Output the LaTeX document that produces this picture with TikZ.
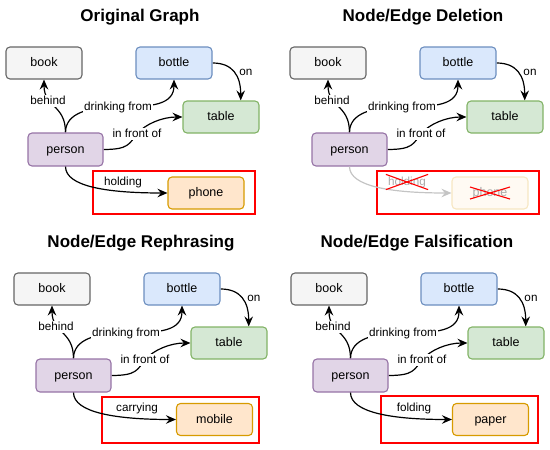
\documentclass[tikz,border=0pt]{standalone}
\usepackage{fontspec}
\setmainfont{Liberation Sans}
\usetikzlibrary{arrows.meta,calc}
\pgfdeclarelayer{background}
\pgfsetlayers{background,main}
\definecolor{bookF}{HTML}{F5F5F5}\definecolor{bookD}{HTML}{666666}
\definecolor{bottleF}{HTML}{DAE8FC}\definecolor{bottleD}{HTML}{6C8EBF}
\definecolor{tableF}{HTML}{D5E8D4}\definecolor{tableD}{HTML}{82B366}
\definecolor{personF}{HTML}{E1D5E7}\definecolor{personD}{HTML}{9673A6}
\definecolor{objF}{HTML}{FFE6CC}\definecolor{objD}{HTML}{D79B00}
\definecolor{fadeF}{HTML}{FFFAF3}\definecolor{fadeD}{HTML}{F7E7C2}
\definecolor{fadeT}{HTML}{AAAAAA}\definecolor{fadeE}{HTML}{C4C4C4}
\tikzset{
 box/.style={draw, rounded corners=4pt, line width=1.1pt, minimum width=76pt,
   minimum height=32pt, inner sep=0pt, font=\fontsize{12.5}{15}\selectfont,
   text height=9.5pt, text depth=2.5pt},
 lbl/.style={fill=white, inner sep=1pt, font=\fontsize{11.7}{14}\selectfont,
   text height=8.5pt, text depth=2.3pt},
 lblnf/.style={lbl, fill=none},
 edge/.style={draw=black, line width=1.2pt, -{Stealth[length=10pt,width=8.5pt,inset=3.5pt]}},
 ttl/.style={font=\fontsize{17}{20}\selectfont\bfseries, anchor=base},
 redbox/.style={draw=red, line width=1.2pt},
 cross/.style={draw=red, line width=1.1pt},
}
% #1 prefix, #2 dx, #3 dy, #4 redbox corner A, #5 redbox corner B
\newcommand\gpanel[5]{%
\begin{scope}[shift={(#2,#3)}]
 \node[box, fill=bookF, draw=bookD] (#1book) at (44,63) {book};
 \node[box, fill=bottleF, draw=bottleD] (#1bottle) at (174,63) {bottle};
 \node[box, fill=tableF, draw=tableD] (#1table) at (221,117) {table};
 \node[box, fill=personF, draw=personD, minimum width=75pt, minimum height=33pt]
   (#1person) at (65.5,149.5) {person};
 \node[lbl] (#1lbeh) at (48,101) {behind};
 \node[lbl] (#1ldr) at (118,107) {drinking from};
 \node[lbl] (#1lfr) at (137,134) {in front of};
 \node[lblnf] (#1lon) at (246,72) {on};
 \draw[redbox] (#4) rectangle (#5);
 \begin{pgfonlayer}{background}
  \draw[edge] (#1person.north) .. controls +(0,-28) and +(0,28) .. (#1book.south);
  \draw[edge] (#1person.north) .. controls +(0,-20) and +(-28,0) .. (#1ldr.center)
     .. controls +(35,0) and +(0,25) .. (#1bottle.south);
  \draw[edge] (#1person.east) .. controls +(25,0) and +(-8,10) .. (#1lfr.center)
     .. controls +(8,-10) and +(-20,0) .. (#1table.west);
  \draw[edge] (#1bottle.east) .. controls +(20,0) and +(0,-25) .. (#1table.40);
 \end{pgfonlayer}
\end{scope}}
\begin{document}
\begin{tikzpicture}[x=1pt,y=-1pt]
\useasboundingbox (0,0) rectangle (550,450);
% titles
\node[ttl] (t1) at (140,21) {Original Graph};
\node[ttl] (t2) at (423,21) {Node/Edge Deletion};
\node[ttl] (t3) at (141,247) {Node/Edge Rephrasing};
\node[ttl] (t4) at (417,247) {Node/Edge Falsification};
% panel 1
\gpanel{a}{0}{0}{93,171}{255,214}
\begin{scope}
 \node[box, fill=objF, draw=objD] (aobj) at (206,193) {phone};
 \node[lblnf] (alh) at (123,182) {holding};
 \draw[edge] (aperson.south) .. controls +(0,20) and +(-60,0) .. (aobj.west);
\end{scope}
% panel 2
\gpanel{b}{284}{0}{93,171}{255,214}
\begin{scope}[shift={(284,0)}]
 \node[box, fill=fadeF, draw=fadeD, text=fadeT] (bobj) at (206,193) {phone};
 \node[lblnf, text=fadeT, inner sep=2pt] (blh) at (123,182) {holding};
 \draw[edge, draw=fadeE] (bperson.south) .. controls +(0,20) and +(-60,0) .. (bobj.west);
 \draw[cross] (blh.south west) -- (blh.north east);
 \draw[cross] (blh.north west) -- (blh.south east);
 \draw[cross] ($(bobj.center)+(-20,-6)$) -- ($(bobj.center)+(20,6)$);
 \draw[cross] ($(bobj.center)+(-20,6)$) -- ($(bobj.center)+(20,-6)$);
\end{scope}
% panel 3
\gpanel{c}{8}{226}{94,171}{251,217}
\begin{scope}[shift={(8,226)}]
 \node[box, fill=objF, draw=objD] (cobj) at (206.5,193.5) {mobile};
 \node[lblnf] (clh) at (129,182) {carrying};
 \draw[edge] (cperson.south) .. controls +(0,20) and +(-60,0) .. (cobj.west);
\end{scope}
% panel 4
\gpanel{d}{285}{226}{96,170}{253,217}
\begin{scope}[shift={(285,226)}]
 \node[box, fill=objF, draw=objD] (dobj) at (205.5,193.5) {paper};
 \node[lblnf] (dlh) at (129,182) {folding};
 \draw[edge] (dperson.south) .. controls +(0,20) and +(-60,0) .. (dobj.west);
\end{scope}
\end{tikzpicture}
\end{document}
